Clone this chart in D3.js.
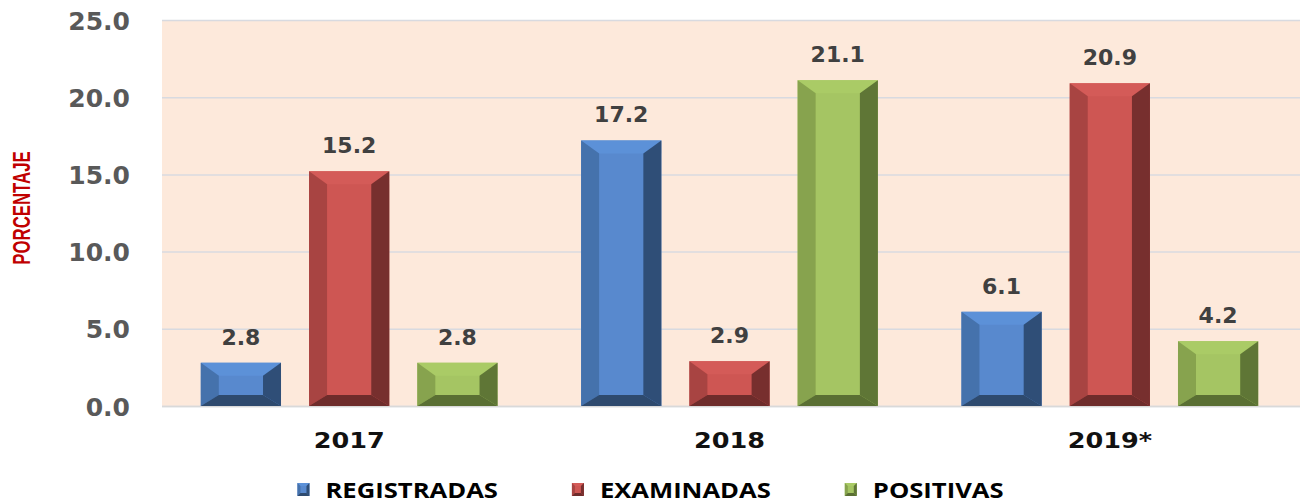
<!DOCTYPE html>
<html>
<head>
<meta charset="utf-8">
<script src="https://cdn.jsdelivr.net/npm/d3@7"></script>
<style>
  html, body { margin: 0; padding: 0; background: #ffffff; }
  svg { display: block; }
</style>
</head>
<body>
<svg id="chart" width="1301" height="504"></svg>
<script>
// ---- data ----
const categories = ["2017", "2018", "2019*"];
const series = ["REGISTRADAS", "EXAMINADAS", "POSITIVAS"];
const registradas = [2.8, 17.2, 6.1];
const examinadas = [15.2, 2.9, 20.9];
const positivas = [2.8, 21.1, 4.2];
const yTicks = [0, 5, 10, 15, 20, 25];
const yTitle = "PORCENTAJE";

// ---- styles ----
const palette = {
  REGISTRADAS: { face: "#5889CE", top: "#5C91D8", left: "#4572AC", right: "#2F4E77", bottom: "#2E4A6E" },
  EXAMINADAS:  { face: "#CE5653", top: "#D45B58", left: "#A84442", right: "#772F2E", bottom: "#6E2C2B" },
  POSITIVAS:   { face: "#A5C563", top: "#AACB66", left: "#87A34E", right: "#5F7636", bottom: "#5A6F33" }
};

const W = 1301, H = 504;
const plot = { left: 162, right: 1300, top: 20, bottom: 406 };
const svg = d3.select("#chart");

const valuesBySeries = { REGISTRADAS: registradas, EXAMINADAS: examinadas, POSITIVAS: positivas };
const rows = [];
categories.forEach((c, i) => series.forEach(s => rows.push({ cat: c, ser: s, v: valuesBySeries[s][i] })));

const x0 = d3.scaleBand().domain(categories).range([159, 1300]);
const x1 = d3.scaleBand().domain(series).range([0, x0.bandwidth()]).paddingInner(0.259).paddingOuter(0.386);
const y = d3.scaleLinear().domain([0, 25]).range([plot.bottom, plot.top]);

// background
svg.append("rect").attr("x", plot.left).attr("y", plot.top)
  .attr("width", plot.right - plot.left).attr("height", plot.bottom - plot.top)
  .attr("fill", "#FDE9DB");

// gridlines
const grid = svg.append("g").attr("transform", `translate(${plot.left},0)`)
  .call(d3.axisLeft(y).tickValues(yTicks).tickSize(-(plot.right - plot.left)).tickFormat(""));
grid.select(".domain").remove();
grid.selectAll("line").attr("stroke", "#D8DAE0").attr("stroke-width", 1.5);

// y axis labels
const yAxis = svg.append("g").attr("transform", `translate(${plot.left},0)`)
  .call(d3.axisLeft(y).tickValues(yTicks).tickFormat(d3.format(".1f")).tickSize(0).tickPadding(32));
yAxis.select(".domain").remove();
yAxis.selectAll("text")
  .attr("font-family", "'DejaVu Sans', sans-serif").attr("font-weight", "bold")
  .attr("font-size", 25).attr("fill", "#595959").attr("dy", "0.36em");

// x axis
const xAxis = svg.append("g").attr("transform", `translate(0,${plot.bottom})`)
  .call(d3.axisBottom(x0).tickSize(0).tickPadding(26));
xAxis.select(".domain").attr("stroke", "#D9D9D9").attr("stroke-width", 1.5)
  .attr("d", `M${plot.left},0.5H${plot.right}`);
xAxis.selectAll("text")
  .attr("font-family", "'DejaVu Sans', sans-serif").attr("font-weight", "bold")
  .attr("font-size", 22).attr("fill", "#111111")
  .attr("transform", "scale(1.16,1)");

// bevel bars
const inSide = 18, inTop = 13, inBot = 11;
function bevel(g, x, w, yTop, yBot, c, sIn, tIn, bIn) {
  const xa = x, xb = x + w, ia = x + sIn, ib = x + w - sIn, it = yTop + tIn, ibt = yBot - bIn;
  const poly = (pts, fill) => g.append("polygon").attr("points", pts.map(p => p.join(",")).join(" ")).attr("fill", fill);
  g.append("rect").attr("x", xa).attr("y", yTop).attr("width", w).attr("height", yBot - yTop).attr("fill", c.face);
  poly([[xa, yTop], [xb, yTop], [ib, it], [ia, it]], c.top);
  poly([[xa, yTop], [ia, it], [ia, ibt], [xa, yBot]], c.left);
  poly([[xb, yTop], [ib, it], [ib, ibt], [xb, yBot]], c.right);
  poly([[xa, yBot], [ia, ibt], [ib, ibt], [xb, yBot]], c.bottom);
}

const barsG = svg.append("g");
rows.forEach(d => {
  const bx = x0(d.cat) + x1(d.ser);
  const g = barsG.append("g");
  bevel(g, bx, x1.bandwidth(), y(d.v), y(0), palette[d.ser], inSide, inTop, inBot);
});

// value labels
svg.append("g").selectAll("text").data(rows).join("text")
  .attr("x", d => x0(d.cat) + x1(d.ser) + x1.bandwidth() / 2)
  .attr("y", d => y(d.v) - 18)
  .attr("text-anchor", "middle")
  .attr("font-family", "'DejaVu Sans', sans-serif").attr("font-weight", "bold")
  .attr("font-size", 22).attr("fill", "#404040")
  .text(d => d3.format(".1f")(d.v));

// y title
svg.append("text")
  .attr("transform", "translate(30,208) rotate(-90) scale(0.7,1)")
  .attr("text-anchor", "middle")
  .attr("font-family", "'Liberation Sans', Arial, sans-serif").attr("font-weight", "bold")
  .attr("font-size", 24).attr("fill", "#C00000")
  .text(yTitle);

// legend
const leg = svg.append("g");
const stretch = 1.22;
let cx = 0;
series.forEach((s, i) => {
  const g = leg.append("g");
  bevel(g, 0, 12, -13, 0, palette[s], 3, 3, 3);
  const t = g.append("text")
    .attr("transform", `translate(28,2) scale(${stretch},1)`)
    .attr("font-family", "'Open Sans', sans-serif").attr("font-weight", "bold")
    .attr("font-size", 21).attr("fill", "#000000").text(s);
  const w = 28 + t.node().getComputedTextLength() * stretch;
  g.attr("transform", `translate(${cx},0)`);
  cx += w + (i < series.length - 1 ? 74 : 0);
});
leg.attr("transform", `translate(${(W - cx) / 2},496)`);
</script>
</body>
</html>
